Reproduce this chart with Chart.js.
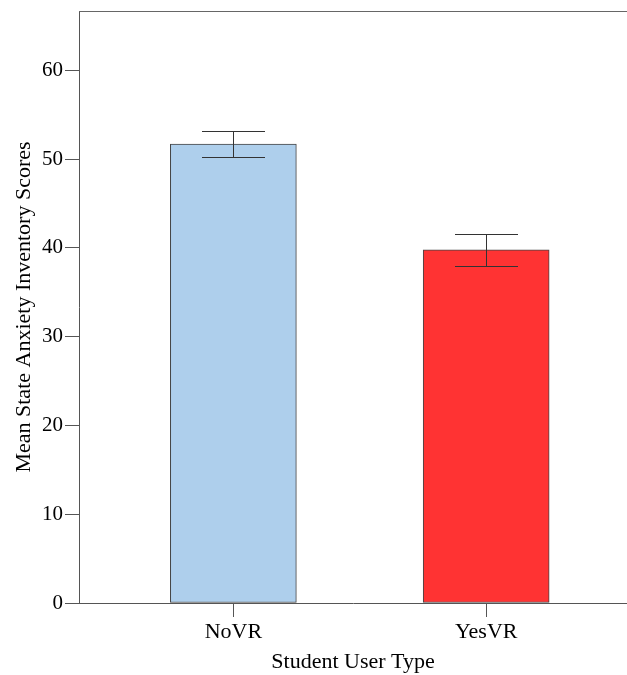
<!DOCTYPE html>
<html><head><meta charset="utf-8">
<script src="https://cdn.jsdelivr.net/npm/chart.js@4.4.1/dist/chart.umd.min.js"></script>
<style>html,body{margin:0;padding:0;background:#fff}</style>
</head><body>
<canvas id="c" width="627" height="675"></canvas>
<script>
const categories = ['NoVR', 'YesVR'];
const means = [51.7, 39.8];
const errLow = [50.2, 38.0];
const errHigh = [53.2, 41.6];
const barColors = ['#AECFEC', '#FF3333'];
const yTicks = [0, 10, 20, 30, 40, 50, 60];
const xTitle = 'Student User Type';
const yTitle = 'Mean State Anxiety Inventory Scores';

const FONT = '"Liberation Serif", "Times New Roman", serif';

const errorBars = {
  id: 'errorBars',
  afterDatasetsDraw(chart) {
    const ctx = chart.ctx, xs = chart.scales.x, ys = chart.scales.y;
    const meta = chart.getDatasetMeta(0);
    ctx.save();
    ctx.strokeStyle = '#333';
    ctx.lineWidth = 1;
    categories.forEach((c, i) => {
      const bar = meta.data[i];
      const cx = Math.round(xs.getPixelForValue(i)) + 0.5;
      const half = bar.width / 4;
      const yl = Math.round(ys.getPixelForValue(errLow[i])) + 0.5;
      const yh = Math.round(ys.getPixelForValue(errHigh[i])) + 0.5;
      ctx.beginPath();
      ctx.moveTo(cx, yl); ctx.lineTo(cx, yh);
      ctx.moveTo(cx - half, yl); ctx.lineTo(cx + half, yl);
      ctx.moveTo(cx - half, yh); ctx.lineTo(cx + half, yh);
      ctx.stroke();
    });
    ctx.restore();
  }
};

const frame = {
  id: 'frame',
  afterDraw(chart) {
    const ctx = chart.ctx, a = chart.chartArea;
    ctx.save();
    ctx.strokeStyle = '#666';
    ctx.lineWidth = 1;
    ctx.beginPath();
    ctx.moveTo(a.left, Math.round(a.top) + 0.5);
    ctx.lineTo(a.right, Math.round(a.top) + 0.5);
    ctx.stroke();
    ctx.restore();
  }
};

new Chart(document.getElementById('c'), {
  type: 'bar',
  data: {
    datasets: [{
      data: categories.map((c, i) => ({ x: i, y: means[i] })),
      backgroundColor: barColors,
      borderColor: '#444',
      borderWidth: 1,
      borderSkipped: false,
      barThickness: 126
    }]
  },
  options: {
    responsive: false,
    animation: false,
    devicePixelRatio: 1,
    layout: { padding: { top: 11, right: 0, left: 0, bottom: 0 } },
    plugins: { legend: { display: false }, tooltip: { enabled: false } },
    scales: {
      x: {
        type: 'linear',
        offset: false,
        min: -0.6105,
        max: 1.557,
        afterBuildTicks(s) { s.ticks = categories.map((c, i) => ({ value: i })); },
        afterFit(s) { s.height = 72; s.paddingLeft = 0; s.paddingRight = 0; },
        ticks: {
          callback: (v) => categories[v],
          font: { family: FONT, size: 22 },
          color: '#000',
          padding: 2,
          maxRotation: 0,
          autoSkip: false
        },
        grid: { offset: false, drawOnChartArea: false, tickLength: 14, color: '#555', tickColor: '#555' },
        border: { display: true, color: '#555', width: 1 },
        title: { display: true, text: xTitle, font: { family: FONT, size: 22 }, color: '#000', padding: { top: 0, bottom: 0 } }
      },
      y: {
        min: 0,
        max: 66.7,
        afterBuildTicks(s) { s.ticks = yTicks.map(v => ({ value: v })); },
        afterFit(s) { s.width = 79; s.paddingTop = 0; s.paddingBottom = 0; },
        ticks: {
          font: { family: FONT, size: 21 },
          color: '#000',
          padding: 2
        },
        grid: { drawOnChartArea: false, tickLength: 14, color: '#555', tickColor: '#555' },
        border: { display: true, color: '#555', width: 1 },
        title: { display: true, text: yTitle, font: { family: FONT, size: 22 }, color: '#000', padding: { top: 11, bottom: 0 } }
      }
    }
  },
  plugins: [errorBars, frame]
});
</script>
</body></html>
